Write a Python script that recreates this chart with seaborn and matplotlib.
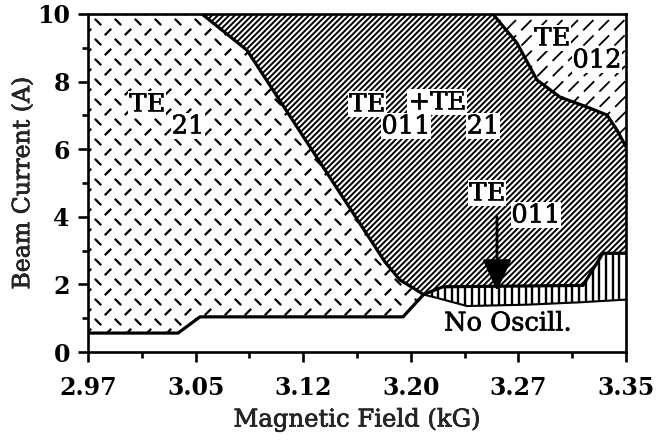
import numpy as np
import matplotlib
matplotlib.use("Agg")
import matplotlib.pyplot as plt
import matplotlib.patheffects as pe
import seaborn as sns
from matplotlib.patches import Polygon
from matplotlib.collections import LineCollection

# ---------------- data ----------------
x_min, x_max = 2.97, 3.35
y_min, y_max = 0.0, 10.0
x_ticks = [2.97, 3.046, 3.122, 3.198, 3.274, 3.35]
x_tick_labels = ["2.97", "3.05", "3.12", "3.20", "3.27", "3.35"]
y_ticks = [0, 2, 4, 6, 8, 10]

# boundary TE21 | TE011+TE21
bA_x = [3.0505, 3.0823, 3.1798, 3.1904, 3.2010, 3.207]
bA_y = [10.0, 8.93, 2.66, 2.13, 1.86, 1.70]
# boundary TE011+TE21 | TE012
bB_x = [3.2560, 3.2730, 3.2871, 3.3034, 3.3224, 3.3366, 3.3436, 3.35]
bB_y = [10.0, 9.14, 8.05, 7.54, 7.25, 7.01, 6.57, 6.07]
# lower boundary of TE21 (oscillation threshold)
low_x = [2.97, 3.0336, 3.0491, 3.1925, 3.207]
low_y = [0.56, 0.56, 1.04, 1.04, 1.70]
# TE011 band
band_top_x = [3.207, 3.2207, 3.3196, 3.3337, 3.35]
band_top_y = [1.70, 1.93, 1.97, 2.92, 2.92]
band_bot_x = [3.207, 3.2165, 3.2377, 3.2801, 3.3175, 3.35]
band_bot_y = [1.70, 1.60, 1.36, 1.40, 1.47, 1.55]

# ---------------- figure ----------------
sns.set_theme(style="ticks")
plt.rcParams["font.family"] = ["DejaVu Serif"]
plt.rcParams["axes.linewidth"] = 1.9

fig = plt.figure(figsize=(6.6, 4.43), dpi=100)
ax = fig.add_axes([88 / 660, 1 - 352 / 443, 538 / 660, 338 / 443])
ax.set_xlim(x_min, x_max)
ax.set_ylim(y_min, y_max)
W, H = ax.bbox.width, ax.bbox.height

# region polygons
te21 = list(zip(low_x, low_y)) + list(zip(bA_x[::-1], bA_y[::-1])) + [(x_min, y_max)]
mixed = list(zip(bA_x, bA_y)) + list(zip(band_top_x, band_top_y)) + list(zip(bB_x[::-1], bB_y[::-1]))
te012 = list(zip(bB_x, bB_y)) + [(x_max, y_max)]
band = list(zip(band_top_x, band_top_y)) + list(zip(band_bot_x[::-1], band_bot_y[::-1]))


def region(pts):
    p = Polygon(pts, closed=True, facecolor="white", edgecolor="none", zorder=1)
    ax.add_patch(p)
    return p


def add_pattern(segs_px, patch, lw, ls="solid"):
    segs = [[(a / W, b / H), (c / W, d / H)] for (a, b), (c, d) in segs_px]
    lc = LineCollection(segs, colors="black", linewidths=lw, linestyles=ls,
                        transform=ax.transAxes, zorder=2, capstyle="butt")
    ax.add_collection(lc)
    lc.set_clip_path(patch)


def diag(spacing):
    return [((c, 0), (c + H, H)) for c in np.arange(-H, W + spacing, spacing)]


# TE21: alternating short dashes
p21 = region(te21)
dsegs = []
for j in range(int(H / 10) + 3):
    y = j * 10.0
    s = 1 if j % 2 == 0 else -1
    for x in np.arange((j % 2) * 10 - 20, W + 20, 20):
        dsegs.append(((x - 3.2, y - 3.2 * s), (x + 3.2, y + 3.2 * s)))
add_pattern(dsegs, p21, 1.6)

# TE011 + TE21: dense diagonal lines
pm = region(mixed)
add_pattern(diag(5.7), pm, 1.4)

# TE012: sparse dashed diagonal lines
p12 = region(te012)
add_pattern(diag(15.5), p12, 1.3, ls=(0, (8, 4)))

# TE011 band: vertical lines
pb = region(band)
add_pattern([((x, 0), (x, H)) for x in np.arange(2, W, 6.7)], pb, 1.7)

# boundaries
for bx, by, lw in [(bA_x, bA_y, 2.3), (bB_x, bB_y, 2.3), (low_x, low_y, 2.3),
                   (band_top_x, band_top_y, 2.3), (band_bot_x, band_bot_y, 1.5)]:
    sns.lineplot(x=bx, y=by, sort=False, estimator=None, color="black", lw=lw,
                 ax=ax, zorder=4)

# labels
heavy = [pe.withStroke(linewidth=0.45, foreground="black")]
tk = dict(fontsize=18.5, color="black", zorder=6, ha="center", va="center",
          bbox=dict(facecolor="white", edgecolor="none", pad=0.5))


def px2data(px, py):
    return x_min + (px - 88) / 538 * (x_max - x_min), (352 - py) / 33.8


for s, (px, py) in [("TE", (147, 104)), ("21", (188, 126)),
                    ("TE", (367, 104)), ("+TE", (437, 102)),
                    ("011", (406, 126)), ("21", (483, 126)),
                    ("TE", (552, 38)), ("012", (597, 60)),
                    ("TE", (487, 193)), ("011", (536, 215)),
                    ("No Oscill.", (508, 323))]:
    t = ax.text(*px2data(px, py), s, **tk)
    t.set_path_effects(heavy)

ax.annotate("", xy=px2data(497, 291), xytext=px2data(497, 217),
            arrowprops=dict(arrowstyle="-|>,head_length=0.78,head_width=0.36",
                            mutation_scale=25, color="black", lw=2.0,
                            shrinkA=0, shrinkB=0), zorder=7)

# axes styling
ax.set_xticks(x_ticks)
ax.set_xticklabels(x_tick_labels)
ax.set_xticks([(a + b) / 2 for a, b in zip(x_ticks[:-1], x_ticks[1:])], minor=True)
ax.set_yticks(y_ticks)
ax.set_yticks([1, 3, 5, 7, 9], minor=True)
ax.tick_params(which="major", direction="out", length=7, width=1.9, labelsize=17,
               colors="black")
ax.tick_params(axis="x", which="major", pad=10)
ax.tick_params(axis="y", which="major", pad=6)
ax.tick_params(which="minor", direction="out", length=4, width=1.9, colors="black")
for lab in ax.get_xticklabels() + ax.get_yticklabels():
    lab.set_fontweight("bold")
for sp in ax.spines.values():
    sp.set_visible(True)
    sp.set_color("black")
    sp.set_linewidth(1.9)
    sp.set_zorder(8)
xl = ax.set_xlabel("Magnetic Field (kG)", fontsize=17.5, labelpad=6)
yl = ax.set_ylabel("Beam Current (A)", fontsize=17, labelpad=2)
xl.set_path_effects(heavy)
yl.set_path_effects(heavy)
ax.set_facecolor("white")
fig.patch.set_facecolor("white")

fig.savefig("out.png", dpi=100)
